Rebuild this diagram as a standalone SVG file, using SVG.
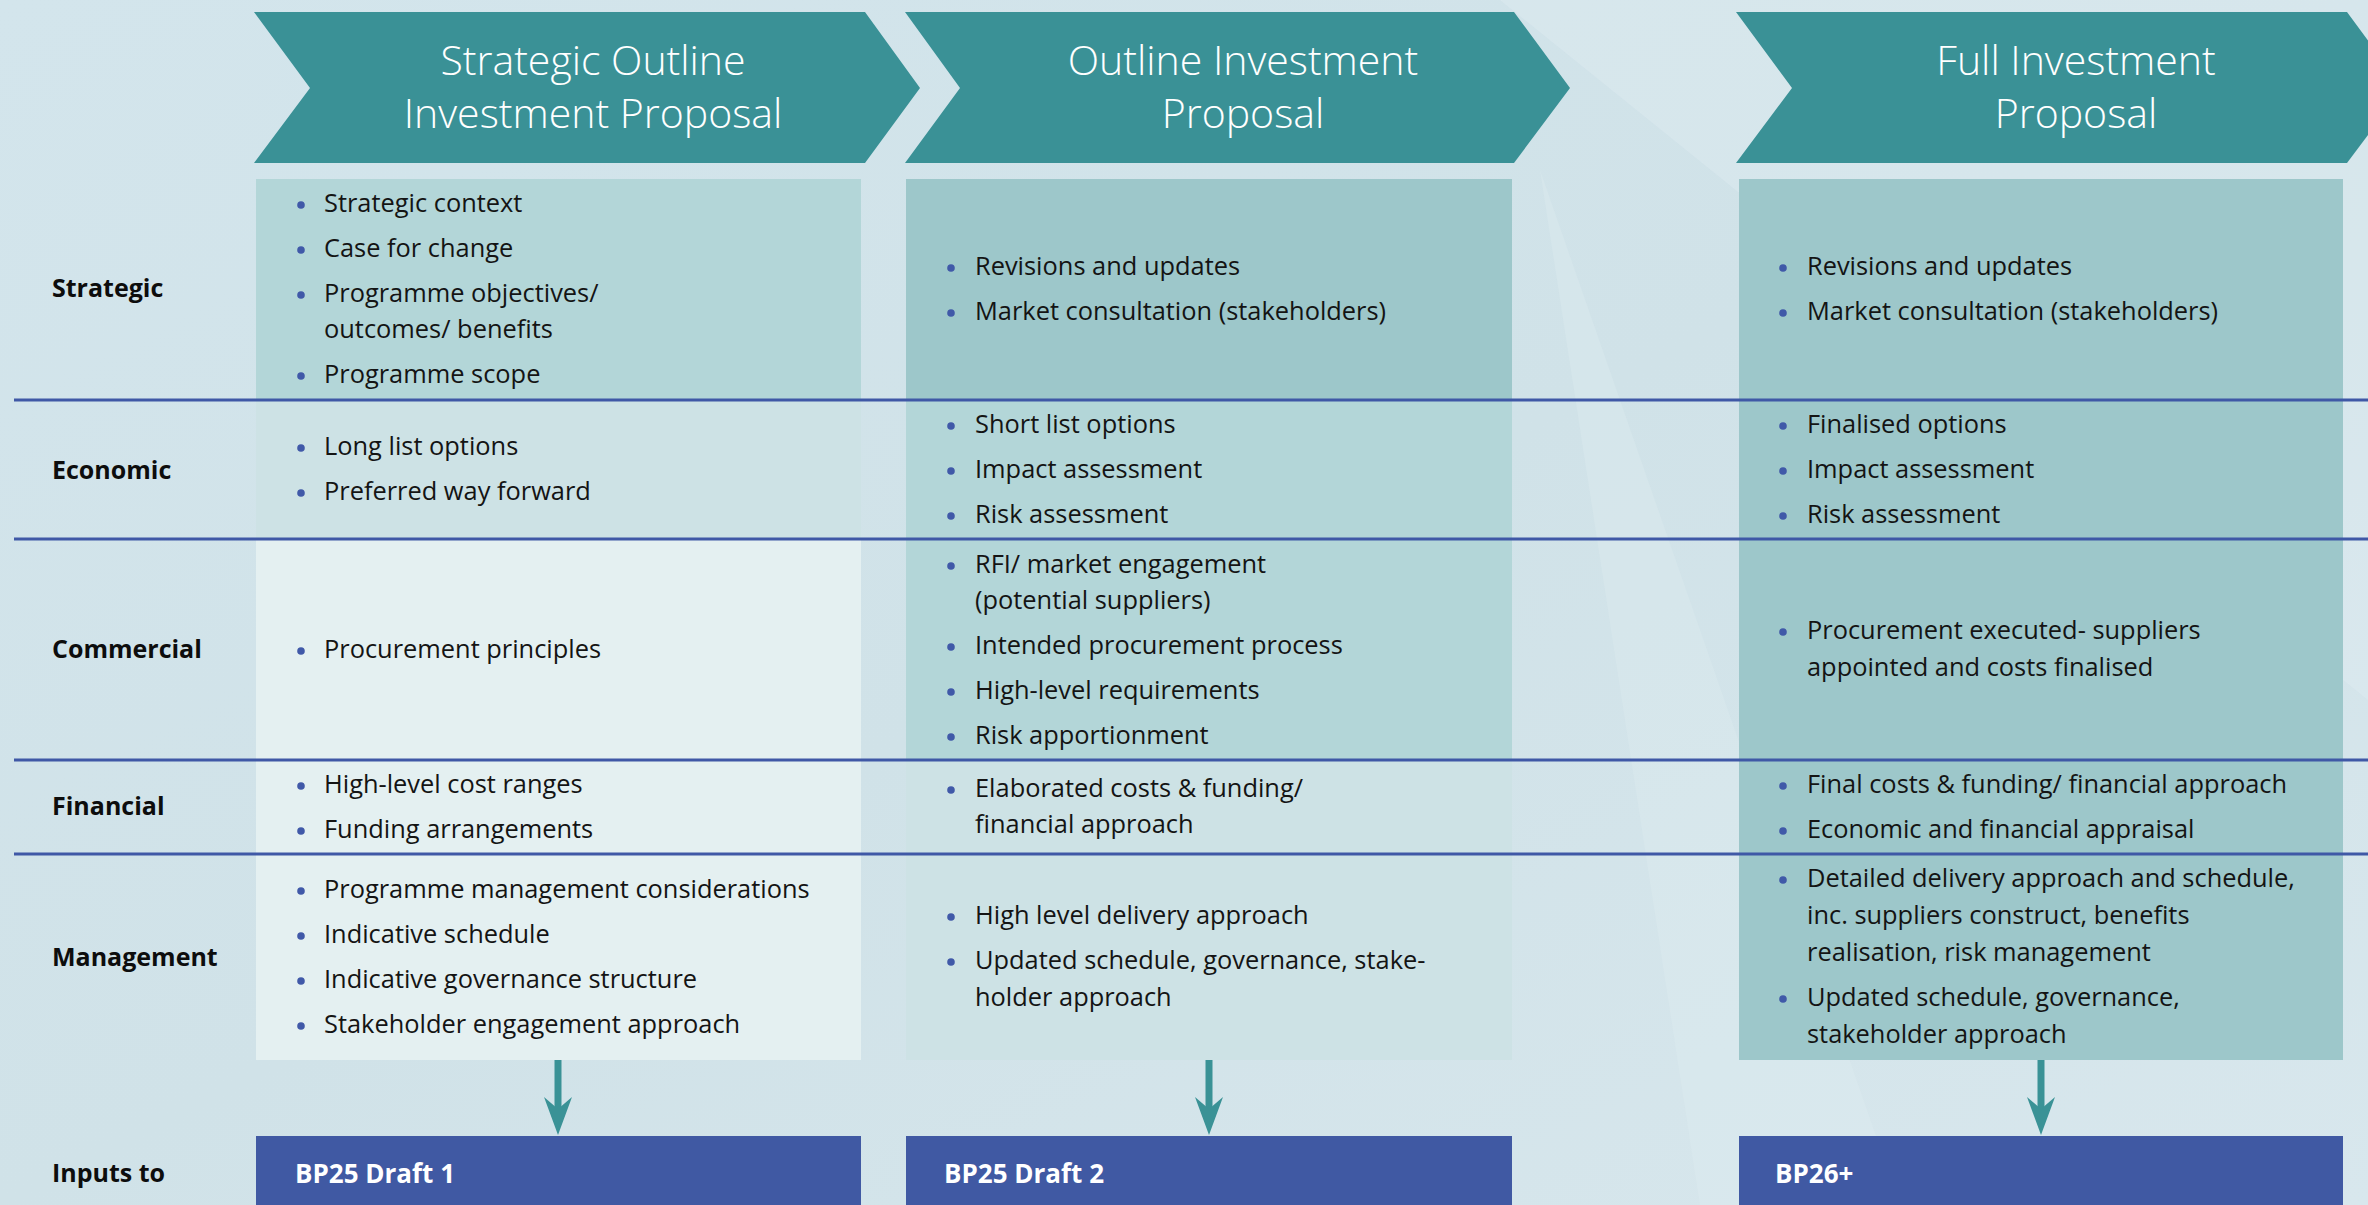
<svg xmlns="http://www.w3.org/2000/svg" width="2368" height="1205" viewBox="0 0 2368 1205">
<defs>
<linearGradient id="bg" x1="0" y1="0" x2="1" y2="1">
<stop offset="0" stop-color="#d3e5ec"/>
<stop offset="0.5" stop-color="#d0e2e8"/>
<stop offset="1" stop-color="#d8e7ed"/>
</linearGradient>
<marker id="ah" markerUnits="userSpaceOnUse" markerWidth="40" markerHeight="28" refX="12" refY="14" orient="auto" viewBox="0 0 40 28">
<path d="M0,0 L38,14 L0,28 L12,14 Z" fill="#3a9296"/>
</marker>
<style>
.chev{fill:#3a9196}
.htxt{font-family:"Open Sans","Noto Sans",sans-serif;font-weight:300;font-size:41px;fill:#ffffff;text-anchor:middle}
.lbl{font-family:"Open Sans","Noto Sans",sans-serif;font-weight:700;font-size:25px;fill:#0d0d0d}
.t{font-family:"Open Sans","Noto Sans",sans-serif;font-weight:400;font-size:25.4px;fill:#141414}
.dot{fill:#4059a8}
.c1{fill:#9dc7ca}
.c2{fill:#b3d6d8}
.c3{fill:#cde2e5}
.c4{fill:#e4f0f1}
.rule{stroke:#3f58a6;stroke-width:3}
.bp{fill:#4059a3}
.bpt{font-family:"Open Sans","Noto Sans",sans-serif;font-weight:700;font-size:26px;fill:#ffffff}
.conn{stroke:#3a9296;stroke-width:7;fill:none}
</style>
</defs>
<rect x="0" y="0" width="2368" height="1205" fill="url(#bg)"/>
<polygon points="1500,0 2368,0 2368,700" fill="#e2eef3" opacity="0.35"/>
<polygon points="1540,170 1900,1205 1700,1205" fill="#e2eef3" opacity="0.3"/>

<g id="chevron-soip">
<polygon class="chev" points="254,12 865,12 920,88 865,163 254,163 310,88"/>
<text class="htxt" x="593" y="75">Strategic Outline</text>
<text class="htxt" x="593" y="128">Investment Proposal</text>
</g>
<g id="chevron-oip">
<polygon class="chev" points="905,12 1514,12 1570,88 1514,163 905,163 960,88"/>
<text class="htxt" x="1243" y="75">Outline Investment</text>
<text class="htxt" x="1243" y="128">Proposal</text>
</g>
<g id="chevron-fip">
<polygon class="chev" points="1736,12 2347,12 2403,88 2347,163 1736,163 1792,88"/>
<text class="htxt" x="2076" y="75">Full Investment</text>
<text class="htxt" x="2076" y="128">Proposal</text>
</g>

<!-- column 1 cells -->
<g id="soip-strategic">
<rect class="c2" x="256" y="179" width="605" height="221"/>
<circle class="dot" cx="301" cy="205" r="3.8"/><text class="t" x="324" y="212">Strategic context</text>
<circle class="dot" cx="301" cy="250" r="3.8"/><text class="t" x="324" y="257">Case for change</text>
<circle class="dot" cx="301" cy="295" r="3.8"/><text class="t" x="324" y="302">Programme objectives/</text>
<text class="t" x="324" y="338">outcomes/ benefits</text>
<circle class="dot" cx="301" cy="376" r="3.8"/><text class="t" x="324" y="383">Programme scope</text>
</g>
<g id="soip-economic">
<rect class="c3" x="256" y="400" width="605" height="139"/>
<circle class="dot" cx="301" cy="448" r="3.8"/><text class="t" x="324" y="455">Long list options</text>
<circle class="dot" cx="301" cy="493" r="3.8"/><text class="t" x="324" y="500">Preferred way forward</text>
</g>
<g id="soip-commercial">
<rect class="c4" x="256" y="539" width="605" height="221"/>
<circle class="dot" cx="301" cy="651" r="3.8"/><text class="t" x="324" y="658">Procurement principles</text>
</g>
<g id="soip-financial">
<rect class="c4" x="256" y="760" width="605" height="93"/>
<circle class="dot" cx="301" cy="786" r="3.8"/><text class="t" x="324" y="793">High-level cost ranges</text>
<circle class="dot" cx="301" cy="831" r="3.8"/><text class="t" x="324" y="838">Funding arrangements</text>
</g>
<g id="soip-management">
<rect class="c4" x="256" y="853" width="605" height="207"/>
<circle class="dot" cx="301" cy="891" r="3.8"/><text class="t" x="324" y="898">Programme management considerations</text>
<circle class="dot" cx="301" cy="936" r="3.8"/><text class="t" x="324" y="943">Indicative schedule</text>
<circle class="dot" cx="301" cy="981" r="3.8"/><text class="t" x="324" y="988">Indicative governance structure</text>
<circle class="dot" cx="301" cy="1026" r="3.8"/><text class="t" x="324" y="1033">Stakeholder engagement approach</text>
</g>

<!-- column 2 cells -->
<g id="oip-strategic">
<rect class="c1" x="906" y="179" width="606" height="221"/>
<circle class="dot" cx="951" cy="268" r="3.8"/><text class="t" x="975" y="275">Revisions and updates</text>
<circle class="dot" cx="951" cy="313" r="3.8"/><text class="t" x="975" y="320">Market consultation (stakeholders)</text>
</g>
<g id="oip-economic">
<rect class="c2" x="906" y="400" width="606" height="139"/>
<circle class="dot" cx="951" cy="426" r="3.8"/><text class="t" x="975" y="433">Short list options</text>
<circle class="dot" cx="951" cy="471" r="3.8"/><text class="t" x="975" y="478">Impact assessment</text>
<circle class="dot" cx="951" cy="516" r="3.8"/><text class="t" x="975" y="523">Risk assessment</text>
</g>
<g id="oip-commercial">
<rect class="c2" x="906" y="539" width="606" height="221"/>
<circle class="dot" cx="951" cy="566" r="3.8"/><text class="t" x="975" y="573">RFI/ market engagement</text>
<text class="t" x="975" y="609">(potential suppliers)</text>
<circle class="dot" cx="951" cy="647" r="3.8"/><text class="t" x="975" y="654">Intended procurement process</text>
<circle class="dot" cx="951" cy="692" r="3.8"/><text class="t" x="975" y="699">High-level requirements</text>
<circle class="dot" cx="951" cy="737" r="3.8"/><text class="t" x="975" y="744">Risk apportionment</text>
</g>
<g id="oip-financial">
<rect class="c3" x="906" y="760" width="606" height="93"/>
<circle class="dot" cx="951" cy="790" r="3.8"/><text class="t" x="975" y="797">Elaborated costs &amp; funding/</text>
<text class="t" x="975" y="833">financial approach</text>
</g>
<g id="oip-management">
<rect class="c3" x="906" y="853" width="606" height="207"/>
<circle class="dot" cx="951" cy="917" r="3.8"/><text class="t" x="975" y="924">High level delivery approach</text>
<circle class="dot" cx="951" cy="962" r="3.8"/><text class="t" x="975" y="969">Updated schedule, governance, stake-</text>
<text class="t" x="975" y="1006">holder approach</text>
</g>

<!-- column 3 cells -->
<g id="fip-strategic">
<rect class="c1" x="1739" y="179" width="604" height="221"/>
<circle class="dot" cx="1783" cy="268" r="3.8"/><text class="t" x="1807" y="275">Revisions and updates</text>
<circle class="dot" cx="1783" cy="313" r="3.8"/><text class="t" x="1807" y="320">Market consultation (stakeholders)</text>
</g>
<g id="fip-economic">
<rect class="c1" x="1739" y="400" width="604" height="139"/>
<circle class="dot" cx="1783" cy="426" r="3.8"/><text class="t" x="1807" y="433">Finalised options</text>
<circle class="dot" cx="1783" cy="471" r="3.8"/><text class="t" x="1807" y="478">Impact assessment</text>
<circle class="dot" cx="1783" cy="516" r="3.8"/><text class="t" x="1807" y="523">Risk assessment</text>
</g>
<g id="fip-commercial">
<rect class="c1" x="1739" y="539" width="604" height="221"/>
<circle class="dot" cx="1783" cy="632" r="3.8"/><text class="t" x="1807" y="639">Procurement executed- suppliers</text>
<text class="t" x="1807" y="676">appointed and costs finalised</text>
</g>
<g id="fip-financial">
<rect class="c1" x="1739" y="760" width="604" height="93"/>
<circle class="dot" cx="1783" cy="786" r="3.8"/><text class="t" x="1807" y="793">Final costs &amp; funding/ financial approach</text>
<circle class="dot" cx="1783" cy="831" r="3.8"/><text class="t" x="1807" y="838">Economic and financial appraisal</text>
</g>
<g id="fip-management">
<rect class="c1" x="1739" y="853" width="604" height="207"/>
<circle class="dot" cx="1783" cy="880" r="3.8"/><text class="t" x="1807" y="887">Detailed delivery approach and schedule,</text>
<text class="t" x="1807" y="924">inc. suppliers construct, benefits</text>
<text class="t" x="1807" y="961">realisation, risk management</text>
<circle class="dot" cx="1783" cy="999" r="3.8"/><text class="t" x="1807" y="1006">Updated schedule, governance,</text>
<text class="t" x="1807" y="1043">stakeholder approach</text>
</g>

<!-- row rules -->
<g id="rules">
<line class="rule" x1="14" y1="400" x2="2368" y2="400"/>
<line class="rule" x1="14" y1="539" x2="2368" y2="539"/>
<line class="rule" x1="14" y1="760" x2="2368" y2="760"/>
<line class="rule" x1="14" y1="854" x2="2368" y2="854"/>
</g>

<!-- row labels -->
<g id="row-labels">
<text class="lbl" x="52" y="297">Strategic</text>
<text class="lbl" x="52" y="479">Economic</text>
<text class="lbl" x="52" y="658">Commercial</text>
<text class="lbl" x="52" y="815">Financial</text>
<text class="lbl" x="52" y="966">Management</text>
<text class="lbl" x="52" y="1182">Inputs to</text>
</g>

<!-- outputs -->
<g id="bp25-draft1">
<rect class="bp" x="256" y="1136" width="605" height="69"/>
<text class="bpt" x="295" y="1183">BP25 Draft 1</text>
</g>
<g id="bp25-draft2">
<rect class="bp" x="906" y="1136" width="606" height="69"/>
<text class="bpt" x="944" y="1183">BP25 Draft 2</text>
</g>
<g id="bp26">
<rect class="bp" x="1739" y="1136" width="604" height="69"/>
<text class="bpt" x="1775" y="1183">BP26+</text>
</g>

<g id="connectors">
<line class="conn" x1="558" y1="1060" x2="558" y2="1109" marker-end="url(#ah)"/>
<line class="conn" x1="1209" y1="1060" x2="1209" y2="1109" marker-end="url(#ah)"/>
<line class="conn" x1="2041" y1="1060" x2="2041" y2="1109" marker-end="url(#ah)"/>
</g>
</svg>
